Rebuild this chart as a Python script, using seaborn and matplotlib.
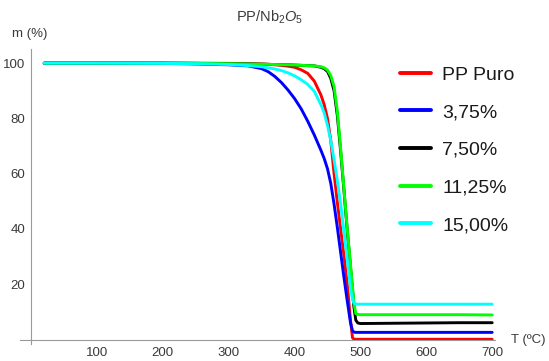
import matplotlib
matplotlib.use("Agg")
import matplotlib.pyplot as plt
import seaborn as sns
import pandas as pd
from matplotlib.ticker import MultipleLocator, FixedLocator

# Temperature grid (°C) shared by all TGA curves
temperature = [20, 100, 200, 250, 300, 330, 350, 360, 370, 380, 390, 400, 410, 420,
               430, 440, 445, 450, 455, 460, 465, 470, 475, 480, 485, 488, 490,
               493, 496, 500, 550, 600, 650, 700]

# Residual mass (%) for each sample
pp_puro = [100, 100, 100, 100, 99.9, 99.8, 99.7, 99.6, 99.4, 99.2, 98.9, 98.5, 97.6,
           96.3, 93.5, 88.5, 85, 80, 72, 60, 49.5, 40, 30.5, 20, 7, 0.6, 0.2,
           0.1, 0.1, 0.1, 0.1, 0.1, 0.1, 0.1]
nb_375 = [100, 100, 99.9, 99.7, 99.4, 99.0, 98.0, 96.9, 95.2, 93.0, 90.3, 87.2, 83.5,
          79, 74, 68.5, 65.5, 61.8, 56.5, 49, 40.5, 31.5, 22.5, 14, 6, 3.2, 2.7,
          2.6, 2.6, 2.6, 2.6, 2.6, 2.6, 2.6]
nb_750 = [100, 100, 100, 99.9, 99.8, 99.7, 99.6, 99.55, 99.5, 99.45, 99.4, 99.3, 99.2,
          99.1, 99.0, 98.5, 98, 97, 94.5, 90, 81, 68, 54, 39.5, 26, 18, 12,
          7, 6.0, 5.8, 5.9, 6.0, 6.1, 6.1]
nb_1125 = [100, 100, 100, 99.9, 99.8, 99.7, 99.6, 99.55, 99.5, 99.45, 99.4, 99.3, 99.2,
           99.1, 99.0, 98.7, 98.3, 97.5, 95.5, 91.5, 82.5, 69, 54.5, 40, 27, 19, 13.5,
           9.4, 9.1, 9.0, 9.0, 9.0, 9.0, 8.9]
nb_1500 = [100, 100, 99.9, 99.8, 99.5, 99.1, 98.7, 98.3, 97.9, 97.3, 96.5, 95.4, 94,
           92.3, 89.8, 85, 82, 77.5, 72, 65, 57.5, 49, 39, 29, 18.5, 14.5, 13.3,
           12.9, 12.8, 12.8, 12.8, 12.8, 12.8, 12.8]

labels = ["PP Puro", "3,75%", "7,50%", "11,25%", "15,00%"]
colors = ["#FF0000", "#0000FF", "#000000", "#00FF00", "#00FFFF"]
series = [pp_puro, nb_375, nb_750, nb_1125, nb_1500]

df = pd.concat(
    [pd.DataFrame({"T": temperature, "m": vals, "amostra": lab})
     for lab, vals in zip(labels, series)],
    ignore_index=True,
)

sns.set_style("white")
plt.rcParams["font.family"] = ["Liberation Sans", "DejaVu Sans"]
plt.rcParams["mathtext.fontset"] = "custom"
plt.rcParams["mathtext.rm"] = "Liberation Sans"
plt.rcParams["mathtext.it"] = "Liberation Sans:italic"

text_color = "#3a3a3a"
axis_color = "#9a9a9a"

fig = plt.figure(figsize=(5.49, 3.61), dpi=100)
ax = fig.add_axes([0.0373, 0.0479, 0.8652, 0.8155])

sns.lineplot(data=df, x="T", y="m", hue="amostra", hue_order=labels,
             palette=dict(zip(labels, colors)), sort=False, estimator=None,
             linewidth=2.1, ax=ax, legend=True)

ax.set_xlim(-16, 705)
ax.set_ylim(-1.5, 105)

# Axes drawn through the origin
for side in ["top", "right"]:
    ax.spines[side].set_visible(False)
ax.spines["left"].set_position(("data", 0))
ax.spines["bottom"].set_position(("data", 0))
for side in ["left", "bottom"]:
    ax.spines[side].set_color(axis_color)
    ax.spines[side].set_linewidth(0.8)

ax.xaxis.set_major_locator(FixedLocator([100, 200, 300, 400, 500, 600, 700]))
ax.xaxis.set_minor_locator(MultipleLocator(20))
ax.yaxis.set_major_locator(FixedLocator([20, 40, 60, 80, 100]))
ax.yaxis.set_minor_locator(MultipleLocator(5))
ax.tick_params(axis="both", which="major", direction="in", length=4.2, width=0.8,
               color=axis_color, labelsize=9.5, labelcolor=text_color, pad=4)
ax.tick_params(axis="both", which="minor", direction="in", length=2.2, width=0.6,
               color=axis_color)
ax.tick_params(axis="x", which="major", pad=5)
ax.set_xlabel("")
ax.set_ylabel("")

fig.text(270 / 549, 1 - 17 / 361, r"PP/Nb$_2$$O_5$", ha="center", va="center",
         fontsize=10.5, color=text_color)
fig.text(30 / 549, 1 - 34 / 361, "m (%)", ha="center", va="center",
         fontsize=9.5, color=text_color)
fig.text(511 / 549, 1 - 340 / 361, "T (ºC)", ha="left", va="center",
         fontsize=9.5, color=text_color)

handles, leg_labels = ax.get_legend_handles_labels()
for h in handles:
    h.set_linewidth(2.8)
leg = ax.legend(handles, leg_labels, loc="upper left",
                bbox_to_anchor=(400 / 549, 1 - 66 / 361),
                bbox_transform=fig.transFigure, frameon=False,
                fontsize=14, handlelength=1.6, handletextpad=0.57,
                labelspacing=1.03, borderpad=0, borderaxespad=0)
for t in leg.get_texts():
    t.set_color("#1a1a1a")

fig.savefig("out.png", dpi=100)
